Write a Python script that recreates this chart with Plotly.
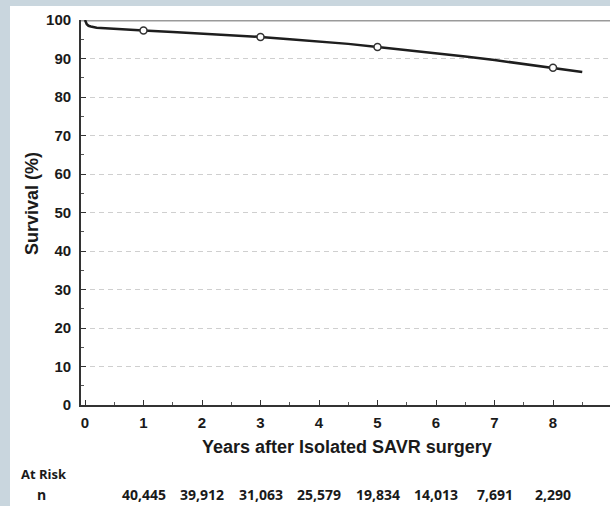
import plotly.graph_objects as go

# Survival curve
years = [0, 0.01, 0.03, 0.06, 0.1, 0.2, 0.4, 0.7, 1, 1.5, 2, 2.5, 3, 3.5, 4, 4.5, 5, 5.5, 6, 6.5, 7, 7.5, 8, 8.5]
survival = [100, 99.5, 98.9, 98.5, 98.3, 98.0, 97.8, 97.6, 97.3, 96.9, 96.5, 96.1, 95.6, 95.0, 94.4, 93.8, 93.0, 92.2, 91.3, 90.5, 89.6, 88.6, 87.6, 86.5]

marker_years = [1, 3, 5, 8]
marker_surv = [97.3, 95.6, 93.0, 87.6]

risk_years = [1, 2, 3, 4, 5, 6, 7, 8]
risk_n = ["40,445", "39,912", "31,063", "25,579", "19,834", "14,013", "7,691", "2,290"]

x_ticks = [0, 1, 2, 3, 4, 5, 6, 7, 8]
y_ticks = [0, 10, 20, 30, 40, 50, 60, 70, 80, 90, 100]

W, H = 610, 506
L, R, T, B = 81, 0, 20, 101
pw, ph = W - L - R, H - T - B

def px(xpix):
    return (xpix - L) / pw

def py(ypix):
    return (H - B - ypix) / ph

fig = go.Figure()
fig.add_trace(go.Scatter(x=years, y=survival, mode="lines",
                         line=dict(color="#1e1e1e", width=2.5), hoverinfo="skip"))
fig.add_trace(go.Scatter(x=marker_years, y=marker_surv, mode="markers",
                         marker=dict(size=7, color="white", line=dict(color="#333", width=1.5)),
                         hoverinfo="skip"))

shapes = [
    dict(type="rect", xref="paper", yref="paper", x0=px(10), x1=px(612), y0=py(508), y1=py(6),
         fillcolor="white", line=dict(width=0), layer="below"),
    dict(type="line", xref="paper", yref="y", x0=0, x1=1, y0=100, y1=100,
         line=dict(color="#9a9a9a", width=3), layer="below"),
]

tf = dict(family="Arial", color="#1a1a1a", weight="bold")
nf = dict(size=14, family="Open Sans", color="#1a1a1a", weight="bold")
annotations = [
    dict(text="Survival (%)", xref="paper", yref="paper", x=px(32), y=py(204),
         textangle=-90, showarrow=False, font=dict(size=18, **tf),
         xanchor="center", yanchor="middle"),
    dict(text="Years after Isolated SAVR surgery", xref="paper", yref="paper",
         x=px(347), y=py(447), showarrow=False,
         font=dict(size=18, **tf), xanchor="center", yanchor="middle"),
    dict(text="At Risk", xref="paper", yref="paper", x=px(19), y=py(474),
         showarrow=False, font=dict(size=13, family="Open Sans", color="#1a1a1a", weight="bold"),
         xanchor="left", yanchor="middle"),
    dict(text="n", xref="paper", yref="paper", x=px(41), y=py(505),
         showarrow=False, font=nf, xanchor="center", yanchor="bottom", borderpad=0),
]
for xv, n in zip(risk_years, risk_n):
    annotations.append(dict(text=n, xref="x", yref="paper", x=xv, y=py(505),
                            showarrow=False, font=nf, borderpad=0,
                            xanchor="center", yanchor="bottom"))

fig.update_layout(
    width=W, height=H,
    margin=dict(l=L, r=R, t=T, b=B),
    paper_bgcolor="#c9d6de",
    plot_bgcolor="white",
    showlegend=False,
    shapes=shapes,
    annotations=annotations,
    xaxis=dict(range=[-4 / 58.5, (610 - 85) / 58.5], tickvals=x_ticks,
               ticks="inside", ticklen=5, tickcolor="#333", tickwidth=1,
               minor=dict(dtick=0.5, tick0=0, ticks="inside", ticklen=3, tickcolor="#555", showgrid=False),
               showline=True, linecolor="#333", linewidth=1.8, showgrid=False, zeroline=False,
               tickfont=dict(size=15, **tf), ticklabelstandoff=3),
    yaxis=dict(range=[0, 100], tickvals=y_ticks,
               ticks="inside", ticklen=5, tickcolor="#333", tickwidth=1,
               minor=dict(dtick=5, tick0=0, ticks="inside", ticklen=3, tickcolor="#555", showgrid=False),
               showline=True, linecolor="#333", linewidth=1.8,
               showgrid=True, gridcolor="#cfcfcf", griddash="5px,4px", gridwidth=1, zeroline=False,
               tickfont=dict(size=15, **tf), ticklabelstandoff=5),
)

fig.write_html("out.html")
